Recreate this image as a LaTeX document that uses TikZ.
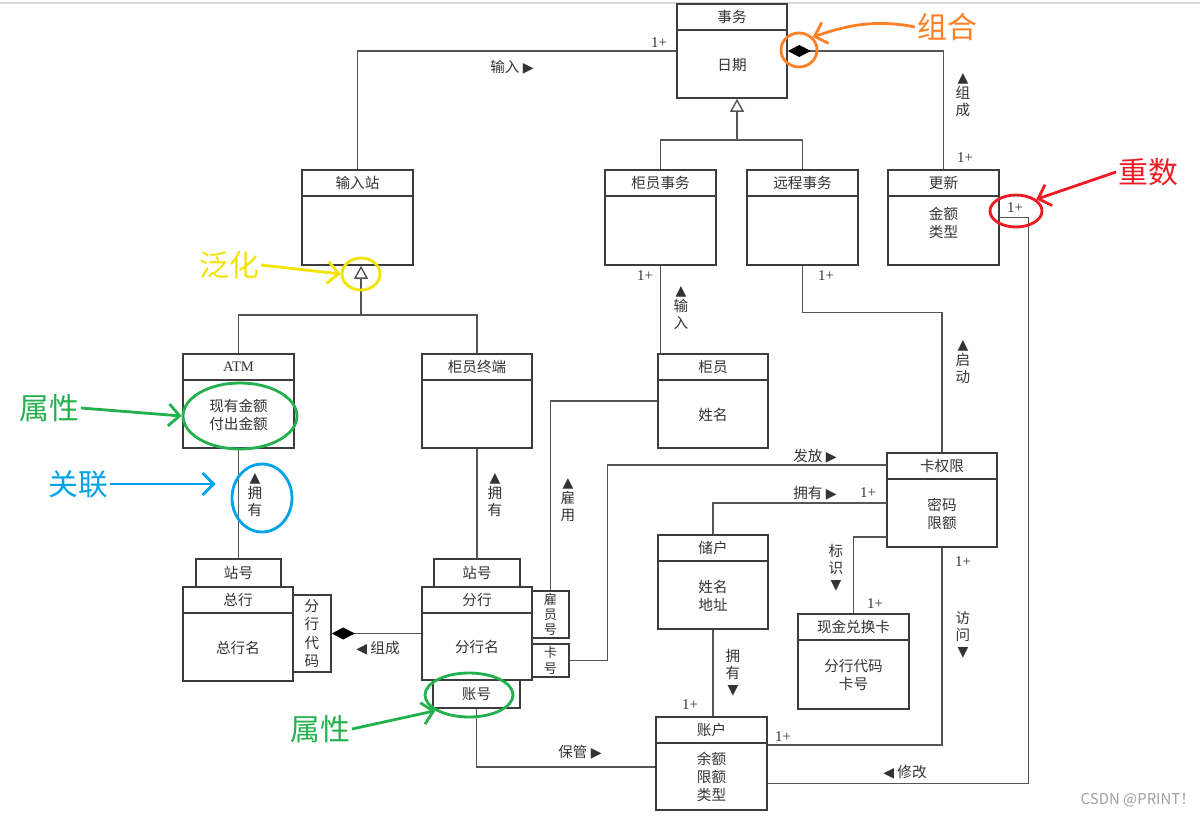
\documentclass[tikz,border=0pt]{standalone}
\usepackage{fontspec}
\setmainfont{Liberation Serif}
\newfontfamily\cjk{Noto Sans CJK SC}
\newfontfamily\sym{DejaVu Sans}
\usetikzlibrary{arrows.meta,calc,shapes.geometric}
\definecolor{boxgray}{HTML}{3C3C3C}
\definecolor{linegray}{HTML}{555555}
\definecolor{txtgray}{HTML}{333333}
\definecolor{paintorange}{HTML}{FF7F27}
\definecolor{paintred}{HTML}{ED1C24}
\definecolor{paintyellow}{HTML}{F2E400}
\definecolor{paintgreen}{HTML}{22B14C}
\definecolor{paintblue}{HTML}{00A2E8}
\newcommand{\tri}[1]{{\sym\fontsize{8}{8}\selectfont#1}}
\newcommand{\umlcls}[6]{%
 \node[cls,minimum width=#3,minimum height=#4] (#1) at (#2) {};
 \node[hdr,minimum width=#3] (#1-t) at (#1.north) {#5};
 \node[attr] (#1-a) at ($(#1-t.south)!0.5!(#1.south)$) {#6};}

\begin{document}
\begin{tikzpicture}[x=0.02cm,y=-0.02cm,>=Latex,
 cls/.style={draw=boxgray,line width=0.9pt,fill=white,inner sep=0pt},
 hdr/.style={draw=boxgray,line width=0.9pt,anchor=north,minimum height=0.52cm,inner sep=0pt,text=txtgray,font=\cjk\fontsize{8.3}{10}\selectfont},
 attr/.style={align=center,inner sep=0pt,text=txtgray,font=\cjk\fontsize{8.3}{10.2}\selectfont},
 qual/.style={draw=boxgray,line width=0.9pt,fill=white,inner sep=0pt,align=center,text=txtgray,font=\cjk\fontsize{8.3}{10.4}\selectfont},
 lnk/.style={draw=linegray,line width=0.8pt},
 gen/.style={lnk,-{Triangle[fill=white,length=0.26cm,width=0.28cm]}},
 comp/.style={lnk,{Diamond[length=0.46cm,width=0.24cm,color=black,fill=black]}-},
 lbl/.style={inner sep=1pt,text=txtgray,font=\cjk\fontsize{8.3}{9.5}\selectfont},
 vlbl/.style={lbl,align=center},
 mult/.style={inner sep=1pt,text=txtgray,font=\fontsize{8.5}{10}\selectfont},
 note/.style={inner sep=1pt,font=\cjk\fontsize{17}{20}\selectfont},
 ring/.style={ellipse,draw,line width=1.6pt,inner sep=0pt},
 hand/.style={line width=1.6pt,-{Straight Barb[length=2.2mm,width=4.4mm]}}]
\useasboundingbox (0,0) rectangle (1200,815);
\draw[gray!30,line width=0.6pt] (0,3) -- (1200,3);

% classes
\umlcls{shiwu}{732,51}{2.2cm}{1.88cm}{事务}{日期}
\umlcls{shuruzhan}{357.5,217.5}{2.22cm}{1.9cm}{输入站}{}
\umlcls{gyshiwu}{660.5,217.5}{2.22cm}{1.9cm}{柜员事务}{}
\umlcls{ycshiwu}{802.5,217.5}{2.22cm}{1.9cm}{远程事务}{}
\umlcls{gengxin}{943.5,217.5}{2.22cm}{1.9cm}{更新}{金额\\类型\\[0cm]{}}
\umlcls{atm}{238.5,401}{2.22cm}{1.88cm}{\rmfamily ATM}{现有金额\\付出金额}
\umlcls{gyzhongduan}{477,401}{2.2cm}{1.88cm}{柜员终端}{}
\umlcls{guiyuan}{713,401}{2.2cm}{1.88cm}{柜员}{姓名}
\umlcls{kaquanxian}{942,500}{2.2cm}{1.88cm}{卡权限}{密码\\限额}
\umlcls{chuhu}{713,582}{2.2cm}{1.88cm}{储户}{姓名\\地址}
\umlcls{xianjinka}{853.5,661.5}{2.22cm}{1.9cm}{现金兑换卡}{分行代码\\卡号}
\umlcls{zhanghu}{711.5,763.5}{2.22cm}{1.86cm}{账户}{余额\\限额\\类型}
\umlcls{zonghang}{238,634}{2.2cm}{1.88cm}{总行}{总行名}
\umlcls{fenhang}{477,633.5}{2.2cm}{1.86cm}{分行}{分行名}

% qualifiers
\node[qual,minimum width=1.7cm,minimum height=0.56cm] (zhanhaoA) at (238.5,573) {站号};
\node[qual,minimum width=1.72cm,minimum height=0.56cm] (zhanhaoB) at (477,573) {站号};
\node[qual,minimum width=0.76cm,minimum height=1.54cm] (fhdaima) at (312,633.5) {分\\行\\代\\码};
\node[qual,minimum width=0.74cm,minimum height=0.94cm,font=\cjk\fontsize{7.5}{8.4}\selectfont] (guyuanhao) at (550.5,614.5) {雇\\员\\号};
\node[qual,minimum width=0.74cm,minimum height=0.66cm,font=\cjk\fontsize{7.5}{8.8}\selectfont] (kahao) at (550.5,660.5) {卡\\号};
\node[qual,minimum width=1.74cm,minimum height=0.56cm] (zhanghao) at (476.5,694) {账号};

% connectors
\draw[lnk] (shiwu.west) -| (shuruzhan.north);
\draw[comp] (shiwu.east) -| (gengxin.north);
\coordinate (genA) at (737,140);
\draw[lnk] (gyshiwu.north) |- (genA) -| (ycshiwu.north);
\draw[gen] (genA) -- (genA |- shiwu.south);
\draw[lnk] (gyshiwu.south) -- (gyshiwu.south |- guiyuan.north);
\draw[lnk] (ycshiwu.south) -- ++(0,47) -| (kaquanxian.north);
\draw[lnk] (gengxin.east) -- ++(29,0) |- ([yshift=-0.4cm]zhanghu.east);
\coordinate (genB) at (361,315);
\draw[lnk] (atm.north) |- (genB) -| (gyzhongduan.north);
\draw[gen] (genB) -- (genB |- shuruzhan.south);
\draw[lnk] (atm.south) -- (zhanhaoA.north);
\draw[lnk] (gyzhongduan.south) -- (zhanhaoB.north);
\draw[comp] (fhdaima.east) -- (fenhang.west);
\draw[lnk] (guiyuan.west) -| (guyuanhao.north);
\draw[lnk] (kahao.east) -- ++(38,0) |- ([yshift=0.7cm]kaquanxian.west);
\draw[lnk] ([yshift=-0.06cm]kaquanxian.west) -| (chuhu.north);
\draw[lnk] ([yshift=-0.74cm]kaquanxian.west) -| (xianjinka.north);
\draw[lnk] (kaquanxian.south) |- ([yshift=0.37cm]zhanghu.east);
\draw[lnk] (chuhu.south) -- (chuhu.south |- zhanghu.north);
\draw[lnk] (zhanghao.south) |- ([yshift=-0.07cm]zhanghu.west);

% labels
\node[lbl] (l-shuru) at (512,67) {输入 \tri{▶}};
\node[mult] (m-shuru) at (659,43) {1+};
\node[vlbl] (l-zucheng) at (963,95) {\tri{▲}\\组\\成};
\node[mult] (m-zucheng) at (965,158) {1+};
\node[mult] (m-xiugai) at (1015,208) {1+};
\node[lbl] (l-xiugai) at (905,772) {\tri{◀} 修改};
\node[mult] (m-gyshuru) at (645,276) {1+};
\node[vlbl] (l-gyshuru) at (681,308) {\tri{▲}\\输\\入};
\node[mult] (m-qidong) at (826,276) {1+};
\node[vlbl] (l-qidong) at (963,362) {\tri{▲}\\启\\动};
\node[vlbl] (l-yongyouA) at (255,495) {\tri{▲}\\拥\\有};
\node[vlbl] (l-yongyouB) at (495,495) {\tri{▲}\\拥\\有};
\node[vlbl] (l-guyong) at (568,500) {\tri{▲}\\雇\\用};
\node[lbl] (l-fafang) at (815,456) {发放 \tri{▶}};
\node[lbl] (l-yongyouC) at (815,493) {拥有 \tri{▶}};
\node[mult] (m-yongyouC) at (868,493) {1+};
\node[vlbl] (l-biaoshi) at (836,568) {标\\识\\\tri{▼}};
\node[mult] (m-biaoshi) at (875,604) {1+};
\node[mult] (m-fangwenA) at (963,562) {1+};
\node[vlbl] (l-fangwen) at (963,635) {访\\问\\\tri{▼}};
\node[mult] (m-fangwenB) at (783,737) {1+};
\node[vlbl] (l-yongyouD) at (733,673) {拥\\有\\\tri{▼}};
\node[mult] (m-yongyouD) at (690,705) {1+};
\node[lbl] (l-zuchengB) at (378,648) {\tri{◀} 组成};
\node[lbl] (l-baoguan) at (580,752) {保管 \tri{▶}};

% annotations
\node[note,text=paintorange] (zuhe) at (947,27) {组合};
\node[ring,draw=paintorange,minimum width=0.72cm,minimum height=0.68cm] (ringA) at (799,50) {};
\draw[hand,paintorange] (zuhe.west) .. controls (870,18) and (840,28) .. (ringA.north east);
\node[note,text=paintred] (chongshu) at (1148,172) {重数};
\node[ring,draw=paintred,minimum width=1.04cm,minimum height=0.64cm] (ringB) at (1016,211) {};
\draw[hand,paintred] (chongshu.west) -- (ringB.30);
\node[note,text=paintyellow] (fanhua) at (229,265) {泛化};
\node[ring,draw=paintyellow,minimum width=0.76cm,minimum height=0.64cm] (ringC) at (361,274) {};
\draw[hand,paintyellow] (fanhua.east) -- (ringC.west);
\node[note,text=paintgreen] (shuxingA) at (49,408) {属性};
\node[ring,draw=paintgreen,minimum width=2.28cm,minimum height=1.32cm] (ringD) at (240,416) {};
\draw[hand,paintgreen] (shuxingA.east) -- (ringD.west);
\node[note,text=paintblue] (guanlian) at (78,484) {关联};
\node[ring,draw=paintblue,minimum width=1.2cm,minimum height=1.36cm] (ringE) at (262,498) {};
\draw[hand,paintblue,shorten >=0.3cm] (guanlian.east) -- (guanlian.east -| ringE.west);
\node[note,text=paintgreen] (shuxingB) at (320,729) {属性};
\node[ring,draw=paintgreen,minimum width=1.76cm,minimum height=0.88cm] (ringF) at (469,695) {};
\draw[hand,paintgreen] (shuxingB.east) -- (ringF.205);

\node[text=gray!75,font=\cjk\fontsize{8.5}{10}\selectfont] (wm) at (1138,800) {CSDN @PRINT！};
\end{tikzpicture}
\end{document}
